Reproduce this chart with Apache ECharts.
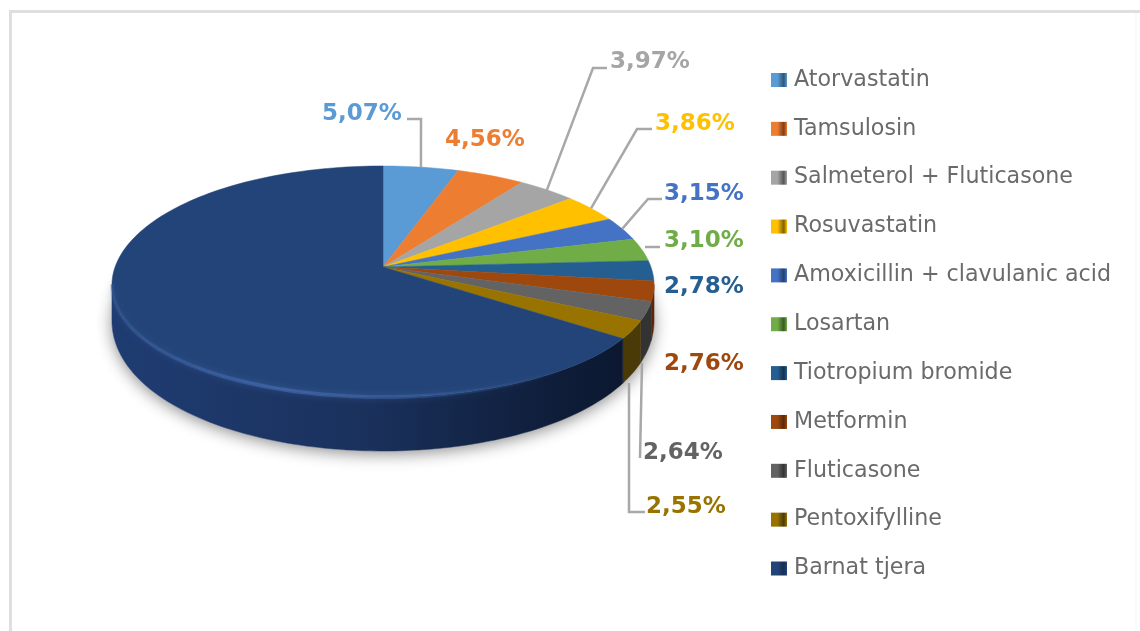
<!DOCTYPE html>
<html>
<head>
<meta charset="utf-8">
<style>
html, body { margin: 0; padding: 0; background: #fff; }
#chart { width: 1140px; height: 631px; filter: blur(0.45px); }
</style>
<script src="https://cdn.jsdelivr.net/npm/echarts@6/dist/echarts.min.js"></script>
</head>
<body>
<div id="chart"></div>
<script>
var categories = ['Atorvastatin', 'Tamsulosin', 'Salmeterol + Fluticasone', 'Rosuvastatin',
    'Amoxicillin + clavulanic acid', 'Losartan', 'Tiotropium bromide', 'Metformin',
    'Fluticasone', 'Pentoxifylline', 'Barnat tjera'];
var values = [5.07, 4.56, 3.97, 3.86, 3.15, 3.10, 2.78, 2.76, 2.64, 2.55, 65.56];
var labels = ['5,07%', '4,56%', '3,97%', '3,86%', '3,15%', '3,10%', '2,78%', '2,76%', '2,64%', '2,55%', ''];
var colors = ['#5B9BD5', '#ED7D31', '#A5A5A5', '#FFC000', '#4472C4', '#70AD47', '#255E91', '#9E480E', '#636363', '#997300', '#234478'];
var wallColors = ['#2f5578', '#7a3f18', '#555555', '#806000', '#24406f', '#3a5a25', '#13304c', '#5a2808', '#333333', '#4a3a08', '#182e57'];

// label centres
var labelX = [362, 485, 650, 695, 704, 704, 704, 704, 683, 686];
var labelY = [114, 140, 62, 124, 194, 241, 287, 364, 453, 507];

// leader lines, only the elbows; the end on the pie is worked out from the slice
var leaders = {
    0: { angle: 0.5, pts: [[407, 119], [421, 119]] },
    2: { angle: 0.5, pts: [[607, 68], [593, 68]] },
    3: { angle: 0.5, pts: [[652, 129], [637, 129]] },
    4: { angle: 0.5, pts: [[662, 199], [648, 199]] }
};
var straightLeaders = {
    5: [[645, 247], [660, 247]],
    8: [[642, 363], [640, 458]],
    9: [[629, 383], [629, 512], [645, 512]]
};

// pie seen in perspective: apex is not the middle of the ellipse
var cx = 383, cy = 267, A = 113.7, B = 268.9, K = 0.1255;
var wallFrom = 97, wallTo = 263;
var total = 0;
for (var i = 0; i < values.length; i++) total += values[i];

function rim(deg) {
    var r = deg * Math.PI / 180;
    var u = Math.sin(r), v = Math.cos(r);
    var f = 1 + K * v;
    // small sag at the sides, the original pie is not a true ellipse
    return [cx + B * u / f, cy - A * v / f + 3 * u * u * (1 - v)];
}
function low(p) {
    return [p[0], 317 + (p[1] - 281.5) * 1.16];
}
function arcPts(a, b, fn) {
    var pts = [];
    var n = Math.max(2, Math.ceil((b - a) / 1.5));
    for (var i = 0; i <= n; i++) {
        var p = rim(a + (b - a) * i / n);
        pts.push(fn ? fn(p) : p);
    }
    return pts;
}
function startOf(idx) {
    var s = 0;
    for (var i = 0; i < idx; i++) s += values[i];
    return s / total * 360;
}

function renderSlice(params, api) {
    var idx = params.seriesIndex;
    var a = startOf(idx);
    var b = a + api.value(0) / total * 360;
    var kids = [];

    if (idx === 0) {
        // soft shadow under the whole pie
        kids.push({
            type: 'polygon',
            shape: { points: arcPts(0, 360, low) },
            style: { fill: '#fff', shadowBlur: 16, shadowColor: 'rgba(0,0,0,0.45)', shadowOffsetY: 3 }
        });
    }

    // side wall
    var w0 = Math.max(a, wallFrom), w1 = Math.min(b, wallTo);
    if (w1 > w0) {
        var wall = arcPts(w0, w1).concat(arcPts(w0, w1, low).reverse());
        var wallFill = idx === 10 ? {
            type: 'linear', global: true, x: 112, y: 0, x2: 622, y2: 0,
            colorStops: [
                { offset: 0, color: '#1f3c72' },
                { offset: 0.5, color: '#1a315c' },
                { offset: 0.85, color: '#0f1e3b' },
                { offset: 1, color: '#0c1830' }
            ]
        } : wallColors[idx];
        kids.push({
            type: 'polygon',
            shape: { points: wall },
            style: { fill: wallFill, stroke: wallFill, lineWidth: 0.5 }
        });
    }

    // top face
    var top = [[cx, cy]].concat(arcPts(a, b));
    kids.push({
        type: 'polygon',
        shape: { points: top },
        style: { fill: colors[idx], stroke: colors[idx], lineWidth: 0.5 }
    });

    if (idx === 10) {
        // light along the front edge
        kids.push({
            type: 'polyline',
            shape: { points: arcPts(124, 263) },
            style: {
                fill: 'none', lineWidth: 4, shadowBlur: 6, shadowColor: 'rgba(80,120,190,0.6)',
                stroke: {
                    type: 'linear', global: true, x: 112, y: 0, x2: 560, y2: 0,
                    colorStops: [
                        { offset: 0, color: 'rgba(70,110,180,0.2)' },
                        { offset: 0.35, color: 'rgba(70,110,180,0.6)' },
                        { offset: 0.65, color: 'rgba(70,110,180,0.4)' },
                        { offset: 1, color: 'rgba(70,110,180,0)' }
                    ]
                }
            }
        });
    }

    // leader line
    var lead = leaders[idx];
    var linePts = null;
    if (lead) linePts = lead.pts.concat([rim(a + (b - a) * lead.angle)]);
    if (straightLeaders[idx]) linePts = straightLeaders[idx];
    if (linePts) {
        kids.push({
            type: 'polyline',
            z2: 5,
            shape: { points: linePts },
            style: { fill: 'none', stroke: '#a8a8a8', lineWidth: 2.5 }
        });
    }

    // value label
    if (labels[idx]) {
        kids.push({
            type: 'text',
            z2: 6,
            x: labelX[idx],
            y: labelY[idx],
            style: {
                text: labels[idx],
                fill: colors[idx],
                font: 'bold 23px "DejaVu Sans"',
                align: 'center',
                verticalAlign: 'middle'
            }
        });
    }
    return { type: 'group', children: kids };
}

function iconFill(c, d) {
    return {
        type: 'linear', x: 0, y: 0, x2: 1, y2: 0,
        colorStops: [{ offset: 0, color: c }, { offset: 0.4, color: c }, { offset: 0.8, color: d }, { offset: 1, color: c }]
    };
}

var series = [];
var legendData = [];
for (var s = 0; s < categories.length; s++) {
    series.push({
        type: 'custom',
        name: categories[s],
        coordinateSystem: 'none',
        silent: true,
        animation: false,
        itemStyle: { color: colors[s] },
        data: [[values[s]]],
        renderItem: renderSlice
    });
    legendData.push({
        name: categories[s],
        icon: 'rect',
        itemStyle: { color: iconFill(colors[s], wallColors[s]) }
    });
}

var myChart = echarts.init(document.getElementById('chart'));
var option = {
    animation: false,
    backgroundColor: '#fff',
    legend: {
        orient: 'vertical',
        left: 771,
        top: 68,
        padding: 0,
        itemWidth: 16,
        itemHeight: 14,
        itemGap: 24.85,
        selectedMode: false,
        data: legendData,
        textStyle: {
            fontFamily: 'DejaVu Sans',
            fontSize: 22.2,
            lineHeight: 24,
            color: '#6a6a6a',
            padding: [0, 0, 0, 2]
        }
    },
    graphic: [{
        type: 'polyline',
        silent: true,
        z: -1,
        shape: { points: [[10.5, 640], [10.5, 11.5], [1140, 11.5]] },
        style: { fill: 'none', stroke: '#dfdfdf', lineWidth: 3 }
    }, {
        type: 'line',
        silent: true,
        z: -1,
        shape: { x1: 1136, y1: 13, x2: 1136, y2: 631 },
        style: { stroke: '#f5f5f5', lineWidth: 1 }
    }],
    series: series
};
myChart.setOption(option);
</script>
</body>
</html>
